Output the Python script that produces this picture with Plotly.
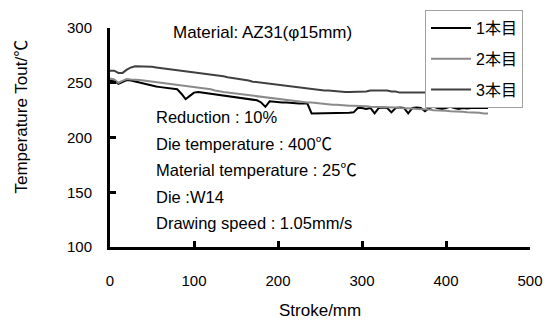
import plotly.graph_objects as go

stroke = [0, 5, 10, 15, 20, 25, 30, 35, 40, 45,
          50, 55, 60, 65, 70, 75, 80, 85, 90, 95,
          100, 105, 110, 115, 120, 125, 130, 135, 140, 145,
          150, 155, 160, 165, 170, 175, 180, 185, 190, 195,
          200, 205, 210, 215, 220, 225, 230, 235, 240, 245,
          250, 255, 260, 265, 270, 275, 280, 285, 290, 295,
          300, 305, 310, 315, 320, 325, 330, 335, 340, 345,
          350, 355, 360, 365, 370, 375, 380, 385, 390, 395,
          400, 405, 410, 415, 420, 425, 430, 435, 440, 445,
          450]

temp_1 = [252, 252, 249, 251, 252.5, 252, 251, 250, 249, 248,
          247, 246.5, 246, 245.5, 245, 245, 244, 240, 235, 238,
          241, 241.5, 241, 240.5, 240, 239.5, 239, 238.5, 238, 237.5,
          237, 236.5, 236, 235.5, 235, 234, 232, 228, 233, 232.5,
          232, 232, 232, 231.5, 231.5, 231, 231, 231, 222, 222,
          222.5, 222, 222, 222, 222.5, 222, 222, 222.5, 223, 227,
          227, 226, 227, 222, 227, 227.5, 227, 223, 227, 227.5,
          227, 222, 227, 227.5, 227, 224, 227, 228, 227, 226,
          227, 228, 227, 226, 227, 226.5, 227, 227, 227, 227.5,
          227]

temp_2 = [254, 253, 250, 252, 253.5, 253, 253, 252.5, 252, 251.5,
          251, 250.5, 250, 250, 249.5, 249, 248, 247.5, 247, 246.5,
          246, 245.5, 245, 244.5, 244, 243, 242, 241.5, 241, 240.5,
          240, 239.5, 239, 238.5, 238, 237.5, 237, 236.5, 236, 235.5,
          235, 234.5, 234, 233.5, 233, 232.5, 232.5, 232, 232, 231.5,
          231, 231, 230.5, 230, 230, 229.5, 229.5, 229, 229, 229,
          228.5, 228.5, 228, 228, 228, 228, 227.5, 227.5, 227.5, 227,
          227, 226.5, 226.5, 226, 226, 225.5, 225.5, 225, 225, 224.5,
          224.5, 224, 224, 223.5, 223.5, 223, 223, 222.5, 222.5, 222,
          222]

temp_3 = [261, 261, 259, 259, 262, 264, 265, 265, 265, 265,
          264.5, 264, 263.5, 263.5, 263, 262.5, 262, 261, 260.5, 260,
          259.5, 259, 258.5, 258, 257.5, 257, 256.5, 256, 255, 254.5,
          254, 253.5, 253, 252, 251, 250.5, 250, 250, 249.5, 249,
          248.5, 248, 247.5, 247, 246.5, 246, 245.5, 245, 244.5, 244,
          243.5, 243, 243, 242.5, 242, 242, 241.5, 241.5, 241.5, 241.5,
          241.5, 242, 243, 243, 243, 243, 243, 242, 242, 241,
          241, 240.5, 240.5, 240.5, 241, 241, 242, 242.5, 243, 243,
          243, 243, 243, 243, 242.5, 242.5, 242, 242, 242, 242,
          242]

series_names = ["1本目", "2本目", "3本目"]
series_colors = ["#000000", "#8a8a8a", "#404040"]

x_ticks = [0, 100, 200, 300, 400, 500]
y_ticks = [100, 150, 200, 250, 300]

notes = ["Reduction : 10%", "Die temperature : 400℃", "Material temperature : 25℃",
         "Die :W14", "Drawing speed : 1.05mm/s"]

FONT = "Liberation Sans, Arial, Noto Sans CJK JP, sans-serif"

fig = go.Figure()
for name, ys, col in zip(series_names, [temp_1, temp_2, temp_3], series_colors):
    fig.add_trace(go.Scatter(x=stroke, y=ys, mode="lines", name=name,
                             legendgroup=name,
                             line=dict(color=col, width=2)))

fig.update_layout(
    width=549, height=323,
    margin=dict(l=110, r=19, t=28, b=76, autoexpand=False),
    paper_bgcolor="white", plot_bgcolor="white",
    font=dict(family=FONT, size=15, color="black"),
    showlegend=True,
    legend=dict(x=0.75, y=1.082, xanchor="left", yanchor="top",
                bgcolor="white", bordercolor="#a0a0a0", borderwidth=1,
                font=dict(size=16), tracegroupgap=7,
                itemwidth=40),
)
fig.update_xaxes(range=[0, 500], tickvals=x_ticks, showgrid=False, zeroline=False,
                 showline=True, linecolor="black", linewidth=3,
                 ticks="inside", ticklen=6, tickwidth=3, tickcolor="black",
                 ticklabelstandoff=18, automargin=False)
fig.update_yaxes(range=[100, 300], tickvals=y_ticks, showgrid=False, zeroline=False,
                 showline=True, linecolor="black", linewidth=3,
                 ticks="inside", ticklen=6, tickwidth=3, tickcolor="black",
                 ticklabelstandoff=12, automargin=False)

fig.add_annotation(text="Temperature Tout/℃", xref="paper", yref="paper",
                   x=-0.21, y=0.595, xanchor="center", yanchor="middle",
                   textangle=-90, showarrow=False, font=dict(size=17))
fig.add_annotation(text="Stroke/mm", xref="paper", yref="paper",
                   x=0.5, y=-0.29, xanchor="center", yanchor="middle",
                   showarrow=False, font=dict(size=17))

fig.add_annotation(text="Material: AZ31(φ15mm)", x=73, y=295.5, xanchor="left",
                   yanchor="middle", showarrow=False, font=dict(size=17))
for i, t in enumerate(notes):
    fig.add_annotation(text=t, x=52, y=218.7 - i * 24.2, xanchor="left",
                       yanchor="middle", showarrow=False, font=dict(size=16.5))

fig.write_html("out.html")
